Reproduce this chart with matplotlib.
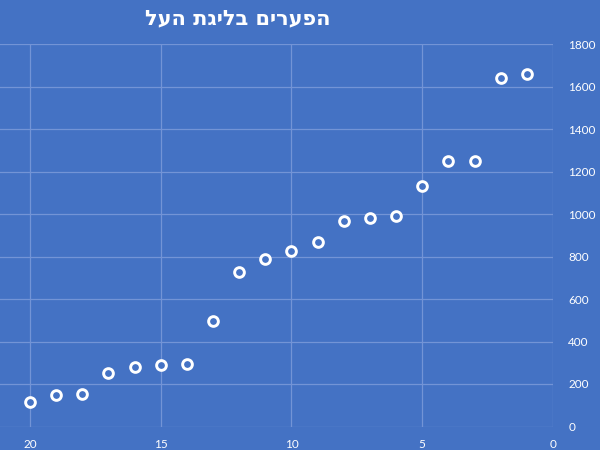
import matplotlib
matplotlib.use("Agg")
import matplotlib.pyplot as plt

# Data
title_text = "הפערים בליגת העל"
x_values = [20, 19, 18, 17, 16, 15, 14, 13, 12, 11, 10, 9, 8, 7, 6, 5, 4, 3, 2, 1]
y_values = [117, 148, 152, 250, 281, 289, 294, 496, 728, 787, 826, 870,
            967, 983, 992, 1132, 1249, 1249, 1641, 1657]
x_ticks = [20, 15, 10, 5, 0]
y_ticks = [0, 200, 400, 600, 800, 1000, 1200, 1400, 1600, 1800]

bg = "#4472C4"
grid_c = "#7394D6"

fig = plt.figure(figsize=(6, 4.5), dpi=100, facecolor=bg)
ax = fig.add_axes([0.0, 1 - 426.5 / 450, 553 / 600, (426.5 - 44) / 450])
ax.set_facecolor(bg)

ax.plot(x_values, y_values, linestyle="none", marker="o", markersize=7,
        markerfacecolor=bg, markeredgecolor="white", markeredgewidth=2.1,
        zorder=3)

ax.set_xlim(21.147, 0)
ax.set_ylim(0, 1800)
ax.set_xticks(x_ticks)
ax.set_yticks(y_ticks)
ax.yaxis.tick_right()
ax.grid(True, color=grid_c, linewidth=0.9)
ax.set_axisbelow(True)
for s in ax.spines.values():
    s.set_visible(False)
ax.tick_params(axis="both", length=0, colors="white", labelsize=8.5)
ax.tick_params(axis="x", pad=9)
ax.tick_params(axis="y", pad=11)
for lab in ax.get_xticklabels() + ax.get_yticklabels():
    lab.set_fontfamily("Lato")

# Hebrew title (visual order, reversed since no bidi layout)
fig.text(238 / 600, 1 - 18.5 / 450, title_text[::-1], ha="center", va="center",
         color="white", fontsize=15, fontweight="bold",
         family=["DejaVu Sans"])

fig.savefig("out.png", dpi=100, facecolor=bg)
